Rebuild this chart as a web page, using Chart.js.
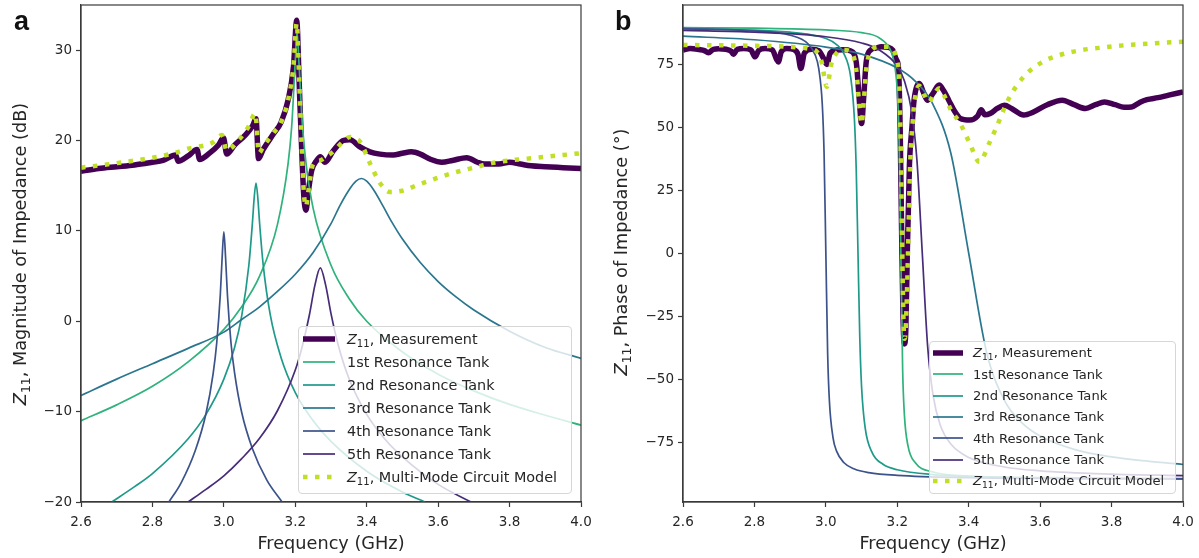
<!DOCTYPE html>
<html><head><meta charset="utf-8">
<script src="https://cdn.jsdelivr.net/npm/chart.js@4.4.1/dist/chart.umd.min.js"></script>
<style>
html,body{margin:0;padding:0;background:#fff;}
#wrap{position:relative;width:1199px;height:558px;overflow:hidden;font-family:"DejaVu Sans",sans-serif;color:#262626;}
.pane{position:absolute;top:0;height:558px;}
.letter{position:absolute;font-family:"Liberation Sans",Arial,sans-serif;font-weight:bold;font-size:27px;color:#111;line-height:1;}
.ytitle{position:absolute;white-space:nowrap;transform:translate(-50%,-50%) rotate(-90deg);font-size:17.7px;line-height:1;}
.ytitle sub,.legend sub{font-size:70%;vertical-align:baseline;position:relative;top:0.3em;}
.legend{position:absolute;background:rgba(255,255,255,0.8);border:1px solid #d6d6d6;border-radius:4px;box-sizing:border-box;}
.legend .row{position:absolute;display:flex;align-items:center;white-space:nowrap;line-height:1;}
.legend svg{display:block;}
</style></head>
<body>
<div id="wrap">
  <div class="pane" style="left:0;width:600px"><canvas id="ca" width="600" height="558"></canvas></div>
  <div class="pane" style="left:600px;width:599px"><canvas id="cb" width="599" height="558"></canvas></div>
  <div class="letter" style="left:14px;top:8px">a</div>
  <div class="letter" style="left:615px;top:8px">b</div>
  <div class="ytitle" style="left:21px;top:254px"><i>Z</i><sub>11</sub>, Magnitude of Impedance (dB)</div>
  <div class="ytitle" style="left:622px;top:252px"><i>Z</i><sub>11</sub>, Phase of Impedance (°)</div>
  <div id="lega" class="legend"></div>
  <div id="legb" class="legend"></div>
</div>
<script>
// ---------- axes ----------
const freqTicks = [2.6, 2.8, 3.0, 3.2, 3.4, 3.6, 3.8, 4.0];
const magTicks = [-20, -10, 0, 10, 20, 30];
const phaseTicks = [-75, -50, -25, 0, 25, 50, 75];
const xTitle = 'Frequency (GHz)';

// ---------- series labels & colours ----------
const seriesLabels = ['Z11, Measurement', '1st Resonance Tank', '2nd Resonance Tank', '3rd Resonance Tank', '4th Resonance Tank', '5th Resonance Tank', 'Z11, Multi-Mode Circuit Model'];
const seriesColors = ['#440154', '#2fb27c', '#1f9a8a', '#2a768e', '#3b528b', '#472c7a', '#c0df25'];

// ---------- panel a : magnitude (dB) ----------
const magMeasFreq = [2.60,2.65,2.70,2.75,2.80,2.83,2.865,2.872,2.90,2.925,2.932,2.96,2.985,2.999,3.008,3.03,3.06,3.08,3.09,3.097,3.11,3.14,3.16,3.18,3.195,3.204,3.211,3.218,3.224,3.23,3.236,3.246,3.26,3.27,3.283,3.307,3.334,3.353,3.381,3.409,3.437,3.474,3.50,3.525,3.55,3.58,3.61,3.64,3.68,3.71,3.73,3.77,3.80,3.83,3.86,3.90,3.95,4.00];
const magMeasVal  = [16.6,16.9,17.1,17.3,17.6,17.8,18.4,17.7,18.3,19.0,17.9,18.6,19.5,20.3,18.5,19.5,20.6,21.6,22.4,18.0,19.0,20.8,22.0,24.5,28.2,33.3,26.3,18.9,13.8,12.3,14.2,16.7,17.8,18.2,17.6,18.9,20.0,20.1,19.3,18.75,18.5,18.4,18.6,18.75,18.5,17.9,17.6,17.8,18.1,17.6,17.4,17.4,17.6,17.4,17.2,17.1,17.0,16.9];
const magModelFreq = [2.60,2.70,2.80,2.86,2.90,2.97,2.995,3.008,3.04,3.07,3.088,3.098,3.11,3.14,3.16,3.18,3.195,3.204,3.211,3.218,3.224,3.23,3.237,3.25,3.27,3.29,3.307,3.334,3.353,3.37,3.381,3.409,3.437,3.465,3.50,3.55,3.60,3.65,3.70,3.75,3.80,3.85,3.90,3.95,4.00];
const magModelVal  = [17.0,17.5,18.1,18.6,19.1,19.8,20.6,18.9,20.0,21.6,23.0,18.6,19.3,20.9,22.0,24.5,28.3,33.0,26.5,19.2,14.2,12.7,14.5,17.4,17.8,18.3,18.8,19.9,20.4,20.2,19.9,17.5,15.3,14.3,14.45,15.2,15.9,16.5,17.0,17.5,17.8,18.0,18.2,18.4,18.6];
const magTank1Freq = [2.6,2.7,2.8,2.9,3.0,3.05,3.1,3.15,3.18,3.19,3.2,3.205,3.21,3.22,3.23,3.25,3.3,3.35,3.4,3.5,3.6,3.7,3.8,3.9,4.0];
const magTank1Val  = [-11.0,-9.25,-7.2,-4.5,-0.9,1.6,5.0,10.7,17.5,21.6,28.8,32.0,28.8,21.7,17.5,12.5,6.2,2.55,0.0,-3.4,-5.85,-7.7,-9.2,-10.4,-11.5];
const magTank2Freq = [2.686,2.75,2.8,2.9,2.95,3.0,3.03,3.05,3.07,3.08,3.085,3.09,3.095,3.10,3.11,3.13,3.16,3.2,3.25,3.3,3.4,3.5,3.563];
const magTank2Val  = [-20.0,-18.3,-16.85,-13.0,-10.3,-6.4,-2.9,0.6,6.2,10.9,13.7,15.3,13.7,10.9,6.3,0.7,-4.0,-7.9,-11.0,-13.3,-16.6,-18.9,-20.0];
const magTank3Freq = [2.6,2.7,2.8,2.9,3.0,3.05,3.1,3.15,3.2,3.25,3.3,3.325,3.35,3.37,3.385,3.40,3.42,3.445,3.47,3.5,3.55,3.6,3.65,3.7,3.8,3.9,4.0];
const magTank3Val  = [-8.2,-6.4,-4.7,-3.0,-1.2,0.2,1.6,3.3,5.2,7.6,10.8,12.8,14.5,15.5,15.8,15.5,14.5,12.8,11.0,9.1,6.5,4.4,2.7,1.25,-1.1,-2.9,-4.1];
const magTank4Freq = [2.846,2.88,2.92,2.95,2.97,2.98,2.99,2.995,3.0,3.005,3.01,3.02,3.03,3.05,3.08,3.12,3.163];
const magTank4Val  = [-20.0,-17.9,-14.3,-10.2,-5.8,-2.4,2.9,6.9,9.9,6.9,2.9,-2.4,-5.7,-10.1,-14.1,-17.55,-20.0];
const magTank5Freq = [2.9,2.95,3.0,3.05,3.1,3.15,3.2,3.22,3.24,3.255,3.27,3.285,3.3,3.32,3.35,3.4,3.45,3.5,3.6,3.692];
const magTank5Val  = [-20.0,-18.6,-17.1,-15.2,-12.95,-9.9,-5.4,-2.7,0.8,4.0,5.9,4.0,0.85,-2.6,-6.3,-10.3,-13.0,-15.0,-18.05,-20.0];

// ---------- panel b : phase (deg) ----------
const phMeasFreq = [2.60,2.62,2.645,2.66,2.671,2.685,2.70,2.72,2.735,2.741,2.752,2.77,2.79,2.802,2.812,2.83,2.85,2.862,2.867,2.875,2.89,2.91,2.922,2.93,2.94,2.96,2.98,2.995,3.003,3.012,3.03,3.05,3.07,3.085,3.093,3.10,3.106,3.113,3.125,3.14,3.155,3.175,3.187,3.198,3.203,3.208,3.212,3.216,3.22,3.224,3.228,3.234,3.241,3.247,3.262,3.273,3.284,3.30,3.317,3.33,3.344,3.36,3.376,3.403,3.425,3.435,3.445,3.46,3.48,3.50,3.52,3.554,3.58,3.62,3.662,3.695,3.727,3.755,3.78,3.81,3.835,3.856,3.88,3.899,3.93,3.96,4.00];
const phMeasVal  = [80.7,81.3,80.9,80.5,79.6,81.0,81.2,81.0,80.2,79.0,81.0,81.3,80.8,78.0,80.6,81.3,80.8,77.0,76.0,80.0,81.3,80.9,79.0,73.4,79.5,81.0,80.5,77.0,75.0,79.5,80.7,80.8,80.3,76.0,62.0,51.5,62.0,76.0,80.7,81.5,82.0,81.8,80.7,76.7,74.0,50.0,10.0,-25.0,-36.0,-30.0,0.0,35.0,50.0,60.8,67.4,64.0,60.8,63.5,66.8,64.5,60.8,56.5,53.6,52.9,54.5,57.0,55.0,55.5,57.5,58.8,57.5,54.9,56.0,59.0,60.8,59.0,57.5,59.0,60.1,59.0,58.0,58.1,60.0,61.0,61.8,62.8,64.1];
const phModelFreq = [2.60,2.70,2.80,2.90,2.95,2.975,2.99,2.998,3.003,3.008,3.015,3.03,3.05,3.07,3.085,3.093,3.10,3.106,3.113,3.125,3.15,3.175,3.19,3.20,3.205,3.21,3.214,3.218,3.221,3.225,3.23,3.236,3.243,3.25,3.262,3.275,3.288,3.30,3.317,3.33,3.35,3.376,3.403,3.43,3.457,3.478,3.51,3.554,3.607,3.65,3.716,3.78,3.845,3.92,4.00];
const phModelVal  = [82.7,82.6,82.4,82.0,81.3,80.0,75.0,68.0,66.1,69.0,75.0,79.5,80.7,80.0,73.0,60.0,51.5,60.0,73.0,80.0,82.0,82.0,80.5,76.0,70.0,40.0,0.0,-30.0,-34.0,-25.0,0.0,35.0,52.0,62.0,66.5,63.0,60.0,62.5,65.5,63.0,57.0,51.6,43.6,36.3,43.6,50.2,60.8,70.1,76.0,78.5,80.7,81.8,82.7,83.4,84.0];
const phTank1Freq = [2.6,2.8,3.0,3.1,3.15,3.18,3.19,3.2,3.205,3.21,3.215,3.22,3.23,3.25,3.3,3.4,3.6,4.0];
const phTank1Val  = [89.6,89.4,88.7,87.6,85.5,81.0,76.6,64.5,46.3,0.0,-46.3,-64.4,-76.5,-83.1,-86.9,-88.5,-89.3,-89.6];
const phTank2Freq = [2.6,2.8,2.9,2.95,3.0,3.03,3.05,3.07,3.08,3.085,3.09,3.095,3.1,3.11,3.13,3.16,3.2,3.3,3.5,3.7,4.0];
const phTank2Val  = [89.2,88.6,87.8,87.0,85.3,82.9,79.4,69.5,53.1,33.6,0.0,-33.6,-53.0,-69.3,-79.3,-83.8,-86.0,-87.9,-88.9,-89.2,-89.5];
const phTank3Freq = [2.6,2.8,3.0,3.1,3.2,3.25,3.3,3.35,3.4,3.45,3.5,3.55,3.6,3.7,3.8,3.9,4.0];
const phTank3Val  = [86.2,84.8,81.9,79.1,73.6,68.4,59.1,39.7,0.0,-39.3,-58.4,-67.5,-72.6,-78.1,-80.9,-82.6,-83.9];
const phTank4Freq = [2.6,2.8,2.9,2.95,2.97,2.98,2.99,2.995,3.0,3.005,3.01,3.02,3.03,3.05,3.08,3.12,3.2,3.4,3.7,4.0];
const phTank4Val  = [89.2,88.3,86.6,83.2,78.8,73.4,59.1,39.8,0.0,-39.7,-58.9,-73.2,-78.6,-83.1,-85.7,-87.1,-88.2,-89.1,-89.5,-89.6];
const phTank5Freq = [2.6,2.8,3.0,3.1,3.15,3.2,3.22,3.24,3.255,3.27,3.285,3.3,3.32,3.35,3.4,3.5,3.6,3.8,4.0];
const phTank5Val  = [88.5,87.8,86.0,83.5,80.7,74.3,68.4,56.5,37.0,0.0,-37.0,-56.3,-68.1,-75.8,-81.1,-84.9,-86.4,-87.7,-88.3];

// ---------- helpers ----------
function pts(fs, vs) { return fs.map((f, i) => ({ x: f, y: vs[i] })); }

const STYLE = [
  { w: 5.5, dash: [], order: 9 },
  { w: 1.7, dash: [], order: 6 },
  { w: 1.7, dash: [], order: 5 },
  { w: 1.7, dash: [], order: 4 },
  { w: 1.7, dash: [], order: 3 },
  { w: 1.7, dash: [], order: 2 },
  { w: 4.5, dash: [4.5, 7.5], order: 0 }
];

function makeDatasets(seriesPts) {
  return seriesPts.map((d, i) => ({
    label: seriesLabels[i],
    data: d,
    borderColor: seriesColors[i],
    backgroundColor: seriesColors[i],
    borderWidth: STYLE[i].w,
    borderDash: STYLE[i].dash,
    borderCapStyle: 'butt',
    pointRadius: 0,
    fill: false,
    cubicInterpolationMode: 'monotone',
    order: STYLE[i].order
  }));
}

const framePlugin = {
  id: 'frame',
  afterDraw(chart) {
    const a = chart.chartArea, ctx = chart.ctx;
    ctx.save();
    ctx.strokeStyle = '#3a3a3a';
    ctx.lineWidth = 1.2;
    ctx.strokeRect(a.left, a.top, a.right - a.left, a.bottom - a.top);
    ctx.restore();
  }
};

function makeOptions(yMin, yMax, yTicks, yAxisW, padRight) {
  const tickFont = { family: 'DejaVu Sans', size: 13.5 };
  return {
    responsive: false,
    animation: false,
    devicePixelRatio: 1,
    events: [],
    layout: { padding: { top: 5, right: padRight, bottom: 0, left: 0 } },
    plugins: { legend: { display: false }, tooltip: { enabled: false } },
    scales: {
      x: {
        type: 'linear', min: 2.6, max: 4.0,
        afterBuildTicks: s => { s.ticks = freqTicks.map(v => ({ value: v })); },
        afterFit: s => { s.height = 56; s.paddingLeft = 0; s.paddingRight = 0; },
        ticks: { font: tickFont, color: '#262626', padding: 7, maxRotation: 0, autoSkip: false,
                 callback: v => Number(v).toFixed(1) },
        grid: { drawOnChartArea: false, drawTicks: true, tickLength: 5, color: '#3a3a3a', tickWidth: 1.2 },
        border: { display: true, color: '#3a3a3a', width: 1.2 },
        title: { display: true, text: xTitle, font: { family: 'DejaVu Sans', size: 17.7 }, color: '#262626', padding: { top: 0, bottom: 3 } }
      },
      y: {
        type: 'linear', min: yMin, max: yMax,
        afterBuildTicks: s => { s.ticks = yTicks.map(v => ({ value: v })); },
        afterFit: s => { s.width = yAxisW; s.paddingTop = 0; s.paddingBottom = 0; },
        ticks: { font: tickFont, color: '#262626', padding: 4, autoSkip: false,
                 callback: v => (v < 0 ? '\u2212' + Math.abs(v) : String(v)) },
        grid: { drawOnChartArea: false, drawTicks: true, tickLength: 5, color: '#3a3a3a', tickWidth: 1.2 },
        border: { display: true, color: '#3a3a3a', width: 1.2 }
      }
    }
  };
}

// ---------- charts ----------
new Chart(document.getElementById('ca'), {
  type: 'line',
  data: { datasets: makeDatasets([
    pts(magMeasFreq, magMeasVal), pts(magTank1Freq, magTank1Val), pts(magTank2Freq, magTank2Val),
    pts(magTank3Freq, magTank3Val), pts(magTank4Freq, magTank4Val), pts(magTank5Freq, magTank5Val),
    pts(magModelFreq, magModelVal)]) },
  options: makeOptions(-20, 35, magTicks, 81, 19),
  plugins: [framePlugin]
});

new Chart(document.getElementById('cb'), {
  type: 'line',
  data: { datasets: makeDatasets([
    pts(phMeasFreq, phMeasVal), pts(phTank1Freq, phTank1Val), pts(phTank2Freq, phTank2Val),
    pts(phTank3Freq, phTank3Val), pts(phTank4Freq, phTank4Val), pts(phTank5Freq, phTank5Val),
    pts(phModelFreq, phModelVal)]) },
  options: makeOptions(-98.8, 98.6, phaseTicks, 83, 16),
  plugins: [framePlugin]
});

// ---------- legends (HTML) ----------
function fmtLabel(t) {
  return t.replace('Z11', '<i>Z</i><sub>11</sub>');
}
function buildLegend(id, box) {
  const el = document.getElementById(id);
  el.style.left = box.left + 'px'; el.style.top = box.top + 'px';
  el.style.width = box.width + 'px'; el.style.height = box.height + 'px';
  seriesLabels.forEach((lab, i) => {
    const row = document.createElement('div');
    row.className = 'row';
    row.style.left = box.sampleX + 'px';
    row.style.top = (box.firstRow + i * box.rowH - 8) + 'px';
    row.style.height = '16px';
    row.style.fontSize = box.font + 'px';
    const st = STYLE[i];
    const dash = st.dash.length ? ` stroke-dasharray="${st.dash.join(' ')}"` : '';
    row.innerHTML = `<svg width="${box.sampleW}" height="16"><line x1="0" y1="8" x2="${box.sampleW}" y2="8" stroke="${seriesColors[i]}" stroke-width="${st.w}"${dash}/></svg>` +
      `<span style="margin-left:${box.gap}px">${fmtLabel(lab)}</span>`;
    el.appendChild(row);
  });
}
buildLegend('lega', { left: 298, top: 326, width: 274, height: 168, sampleX: 4, sampleW: 32, gap: 12, firstRow: 12, rowH: 23, font: 14.4 });
buildLegend('legb', { left: 929, top: 341, width: 247, height: 153, sampleX: 3, sampleW: 30, gap: 10, firstRow: 11, rowH: 21.3, font: 13.1 });
</script>
</body></html>
